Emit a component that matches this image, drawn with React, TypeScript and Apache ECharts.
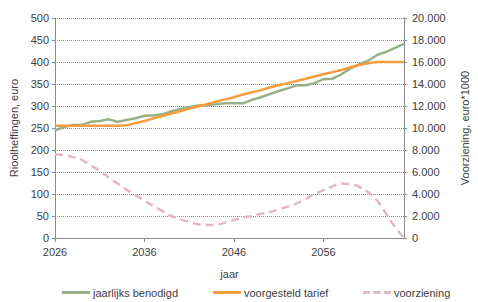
import React, { useEffect, useRef } from "react";
import * as echarts from "echarts";

const years: string[] = [];
for (let y = 2026; y <= 2065; y++) years.push(String(y));

const jaarlijksBenodigd = [
  245, 252, 257, 257, 264, 266, 270, 264, 268, 272,
  278, 279, 281, 288, 293, 297, 301, 302, 304, 306,
  306, 306, 314, 320, 327, 334, 340, 347, 347, 352,
  361, 362, 372, 385, 395, 403, 416, 423, 432, 441,
];

const voorgesteldTarief = [
  255, 255, 255, 255, 255, 255, 255, 255, 256, 261,
  266, 272, 277, 283, 288, 294, 299, 304, 310, 315,
  320, 326, 331, 336, 342, 347, 352, 357, 362, 367,
  372, 377, 382, 388, 393, 397, 400, 400, 400, 400,
];

const voorziening = [
  7600, 7550, 7350, 7100, 6600, 6100, 5500, 4950, 4400, 3900,
  3400, 2900, 2450, 2000, 1700, 1450, 1250, 1180, 1200, 1400,
  1650, 1850, 2000, 2200, 2350, 2600, 2850, 3150, 3550, 4000,
  4350, 4700, 4950, 4900, 4650, 4150, 3400, 2200, 1000, 0,
];

const seriesNames = ["jaarlijks benodigd", "voorgesteld tarief", "voorziening"];

const FONT = "Liberation Sans, Arial, sans-serif";
const TXT = "#404040";
const GREEN = "#97B087";
const ORANGE = "#F59D3D";
const PINK = "#E3B8C6";

function legendAt(left: number, name: string, icon: string) {
  return {
    bottom: -1,
    left,
    itemWidth: 28,
    itemHeight: 3,
    itemGap: 0,
    textStyle: { fontFamily: FONT, fontSize: 11, color: TXT, padding: [0, 0, 0, -2] },
    data: [{ name, icon }],
  };
}

export default function App() {
  const ref = useRef<HTMLDivElement>(null);
  useEffect(() => {
    if (!ref.current) return;
    const chart = echarts.init(ref.current, undefined, { renderer: "svg" });
    chart.setOption({
      animation: false,
      textStyle: { fontFamily: FONT, color: TXT },
      grid: { left: 50, right: 63, top: 18, bottom: 64 },
      legend: [
        legendAt(57, seriesNames[0], "rect"),
        legendAt(208, seriesNames[1], "rect"),
        legendAt(358, seriesNames[2], "path://M0,0h7v3h-7z M10.5,0h7v3h-7z M21,0h7v3h-7z"),
      ],
      xAxis: {
        type: "category",
        data: years,
        boundaryGap: false,
        name: "jaar",
        nameLocation: "middle",
        nameGap: 30,
        nameTextStyle: { fontFamily: FONT, fontSize: 11, color: TXT },
        axisLine: { lineStyle: { color: "#8c8c8c" } },
        axisTick: { interval: 9, length: 4, lineStyle: { color: "#8c8c8c" } },
        axisLabel: { interval: 9, margin: 8, fontFamily: FONT, fontSize: 11, color: TXT },
      },
      yAxis: [
        {
          type: "value",
          min: 0,
          max: 500,
          interval: 50,
          name: "Rioolheffingen, euro",
          nameLocation: "middle",
          nameGap: 36,
          nameTextStyle: { fontFamily: FONT, fontSize: 11, color: TXT },
          axisLine: { show: true, lineStyle: { color: "#8c8c8c" } },
          axisTick: { show: true, length: 3, lineStyle: { color: "#8c8c8c" } },
          axisLabel: { margin: 6, fontFamily: FONT, fontSize: 11, color: TXT },
          splitLine: { lineStyle: { type: "dotted", color: "#8a8a8a" } },
        },
        {
          type: "value",
          min: 0,
          max: 20000,
          interval: 2000,
          position: "right",
          name: "Voorziening, euro*1000",
          nameLocation: "middle",
          nameGap: 55,
          nameTextStyle: { fontFamily: FONT, fontSize: 11, color: TXT },
          axisLine: { show: true, lineStyle: { color: "#8c8c8c" } },
          axisTick: { show: true, length: 3, lineStyle: { color: "#8c8c8c" } },
          axisLabel: {
            margin: 8,
            fontFamily: FONT,
            fontSize: 11,
            color: TXT,
            formatter: (v: number) => v.toLocaleString("de-DE"),
          },
          splitLine: { show: false },
        },
      ],
      series: [
        {
          name: seriesNames[0],
          type: "line",
          data: jaarlijksBenodigd,
          yAxisIndex: 0,
          symbol: "none",
          lineStyle: { color: GREEN, width: 2.5 },
          itemStyle: { color: GREEN },
        },
        {
          name: seriesNames[1],
          type: "line",
          data: voorgesteldTarief,
          yAxisIndex: 0,
          symbol: "none",
          lineStyle: { color: ORANGE, width: 2.5 },
          itemStyle: { color: ORANGE },
        },
        {
          name: seriesNames[2],
          type: "line",
          data: voorziening,
          yAxisIndex: 1,
          symbol: "none",
          smooth: true,
          lineStyle: { color: PINK, width: 2.5, type: [8, 5] },
          itemStyle: { color: PINK },
        },
      ],
    });
    return () => chart.dispose();
  }, []);
  return <div ref={ref} style={{ width: 478, height: 302, position: "absolute", left: 0, top: 0 }} />;
}
